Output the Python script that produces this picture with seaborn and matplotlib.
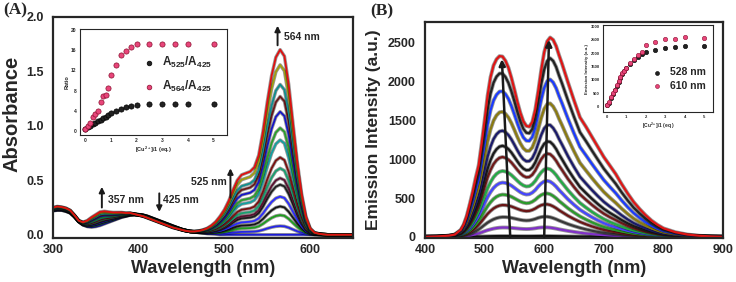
import numpy as np
import pandas as pd
import matplotlib
matplotlib.use("Agg")
import matplotlib.pyplot as plt
import matplotlib.patheffects as pe
import seaborn as sns

# ---------------- panel A : absorption titration ----------------
abs_wl = [300, 305, 310, 315, 320, 325, 330, 335, 340, 345, 350, 355, 360, 365, 370,
          375, 380, 385, 390, 395, 400, 405, 410, 415, 420, 425, 430, 435, 440, 445,
          450, 455, 460, 465, 470, 475, 480, 485, 490, 495, 500, 505, 510, 515, 520,
          525, 530, 535, 540, 545, 550, 555, 560, 565, 570, 575, 580, 585, 590, 595,
          600, 605, 610, 615, 620, 625, 630, 635, 640, 645, 650]
# spectrum of free probe (no Cu2+)
abs_free = [0.22, 0.225, 0.225, 0.215, 0.20, 0.165, 0.12, 0.09, 0.075, 0.07, 0.075, 0.085, 0.10, 0.115, 0.13,
            0.145, 0.16, 0.17, 0.18, 0.185, 0.185, 0.18, 0.17, 0.155, 0.14, 0.125, 0.11, 0.095, 0.08, 0.065,
            0.05, 0.04, 0.03, 0.025, 0.02, 0.015, 0.01, 0.008, 0.005, 0.0, 0.0, 0.0, 0.0, 0.0, 0.0,
            0.0, 0.0, 0.0, 0.0, 0.0, 0.0, 0.0, 0.0, 0.0, 0.0, 0.0, 0.0, 0.0, 0.0, 0.0,
            0.0, 0.0, 0.0, 0.0, 0.0, 0.0, 0.0, 0.0, 0.0, 0.0, 0.0]
# spectrum at the end of the titration
abs_top = [0.25, 0.26, 0.255, 0.245, 0.225, 0.18, 0.13, 0.115, 0.13, 0.16, 0.185, 0.21, 0.215, 0.21, 0.205,
           0.205, 0.205, 0.20, 0.20, 0.19, 0.18, 0.17, 0.155, 0.14, 0.125, 0.11, 0.095, 0.08, 0.065, 0.055,
           0.045, 0.035, 0.03, 0.03, 0.035, 0.045, 0.06, 0.085, 0.12, 0.17, 0.23, 0.31, 0.41, 0.50, 0.55,
           0.565, 0.58, 0.62, 0.73, 0.95, 1.22, 1.46, 1.63, 1.70, 1.64, 1.38, 1.02, 0.67, 0.38, 0.17,
           0.06, 0.02, 0.01, 0.004, 0.0, 0.0, 0.0, 0.0, 0.0, 0.0, 0.0]
# absorbance at 564 nm for every trace (bottom -> top)
abs_peaks = [0.0, 0.08, 0.18, 0.26, 0.35, 0.46, 0.52, 0.61, 0.71, 0.87, 0.98, 1.13, 1.27, 1.38, 1.56, 1.70]
abs_colors = ["#1a1ad8", "#2525e6", "#1e9e1e", "#151515", "#2b2bff", "#202020", "#5a1030", "#18a070",
              "#7a1010", "#12a0a0", "#2aa02a", "#1515c8", "#6b1818", "#0f8f8f", "#a0a010", "#e01010"]

# inset A : ratios
eq_a = [0, 0.1, 0.2, 0.3, 0.4, 0.5, 0.6, 0.7, 0.8, 0.9, 1.0, 1.2, 1.4, 1.6, 1.8, 2.0, 2.5, 3.0, 3.5, 4.0, 5.0]
ratio_525 = [0.3, 0.7, 1.0, 1.3, 1.6, 1.9, 2.2, 2.5, 2.8, 3.1, 3.6, 4.0, 4.4, 4.7, 5.0, 5.2, 5.4, 5.4, 5.4, 5.4, 5.4]
ratio_564 = [0.3, 1.0, 1.6, 2.7, 3.3, 4.0, 5.7, 7.0, 7.1, 8.5, 11.0, 13.0, 15.0, 15.9, 16.6, 17.3, 17.3, 17.3, 17.3, 17.3, 17.3]

# ---------------- panel B : emission titration ----------------
em_wl = [400, 420, 440, 450, 460, 465, 470, 475, 480, 485, 490, 495, 500, 505, 510, 515, 520, 525, 530,
         535, 540, 545, 550, 555, 560, 565, 570, 575, 580, 585, 590, 595, 600, 605, 610, 615, 620, 625,
         630, 640, 650, 660, 670, 680, 690, 700, 710, 720, 730, 740, 750, 760, 770, 780, 790, 800, 820,
         840, 860, 880, 900]
# final emission spectrum
em_top = [0, 5, 15, 30, 90, 160, 270, 420, 580, 760, 920, 1200, 1500, 1820, 2060, 2210, 2290, 2330, 2325,
          2270, 2180, 2050, 1900, 1740, 1600, 1490, 1430, 1420, 1480, 1640, 1880, 2150, 2380, 2520, 2570, 2540,
          2460, 2340, 2230, 1990, 1760, 1540, 1420, 1290, 1160, 1030, 920, 810, 680, 560, 450, 360, 280, 210,
          155, 110, 60, 30, 14, 5, 0]
# shape of the weakest emission trace (scaled to 1 at 528 nm)
em_low = [0, 0, 0.01, 0.02, 0.04, 0.06, 0.09, 0.13, 0.19, 0.27, 0.37, 0.48, 0.60, 0.71, 0.80, 0.88, 0.94, 0.98, 1.0,
          1.0, 0.99, 0.97, 0.94, 0.91, 0.88, 0.86, 0.85, 0.86, 0.89, 0.93, 0.98, 1.01, 1.02, 1.01, 0.98, 0.93,
          0.87, 0.80, 0.74, 0.62, 0.52, 0.43, 0.35, 0.28, 0.22, 0.17, 0.13, 0.10, 0.075, 0.055, 0.04, 0.03, 0.02, 0.015,
          0.01, 0.007, 0.003, 0.001, 0, 0, 0]
# intensity at 528 nm for every trace (bottom -> top)
em_peaks = [10, 120, 255, 410, 545, 700, 850, 1030, 1175, 1370, 1615, 1880, 2110, 2330]
em_colors = ["#101010", "#8030c8", "#383838", "#6a1515", "#2a9a2a", "#4545ff", "#22aa44", "#701818",
             "#1a1a1a", "#1a1a6a", "#8a7a10", "#1a3aff", "#222222", "#e01515"]

# inset B : intensities
eq_b = [0, 0.1, 0.2, 0.3, 0.4, 0.5, 0.6, 0.7, 0.8, 0.9, 1.0, 1.2, 1.4, 1.6, 1.8, 2.0, 2.5, 3.0, 3.5, 4.0, 5.0]
int_528 = [50, 150, 330, 480, 620, 780, 930, 1080, 1220, 1330, 1430, 1600, 1750, 1870, 1980, 2060, 2120, 2190, 2220, 2250, 2250]
int_610 = [50, 170, 350, 500, 640, 800, 950, 1100, 1240, 1350, 1450, 1620, 1780, 1920, 2050, 2310, 2410, 2520, 2540, 2600, 2570]


def halo(ax, lw):
    for ln in ax.lines:
        ln.set_path_effects([pe.Stroke(linewidth=lw + 1.2, foreground=(0, 0, 0, 0.4)), pe.Normal()])


def style_main(ax):
    for s in ax.spines.values():
        s.set_linewidth(1.6)
        s.set_visible(True)
    ax.tick_params(axis="x", direction="in", length=3, width=1.2, labelsize=9, pad=4)
    ax.tick_params(axis="y", direction="out", length=3, width=1.2, labelsize=9)
    ax.tick_params(which="minor", direction="in", length=2, width=1)


def style_inset(ax):
    for s in ax.spines.values():
        s.set_linewidth(0.8)
        s.set_visible(True)
    ax.tick_params(length=1.5, width=0.6, labelsize=3.5, pad=1)


sns.set_theme(style="white")
plt.rcParams["font.family"] = ["Liberation Sans", "DejaVu Sans"]
plt.rcParams["font.weight"] = "bold"
plt.rcParams["axes.labelweight"] = "bold"
plt.rcParams["mathtext.fontset"] = "custom"
plt.rcParams["mathtext.bf"] = "Liberation Sans:bold"
plt.rcParams["mathtext.rm"] = "Liberation Sans:bold"

fig = plt.figure(figsize=(7.36, 2.82), dpi=100)

# ------------------- A -------------------
axA = fig.add_axes([53 / 736, 1 - 238 / 282, 300 / 736, 221 / 282])
free = np.array(abs_free)
top = np.array(abs_top)
rows = []
for i, p in enumerate(abs_peaks):
    f = p / abs_peaks[-1]
    for w, v in zip(abs_wl, free + f * (top - free)):
        rows.append((i, w, v))
dfA = pd.DataFrame(rows, columns=["curve", "wl", "A"])
sns.lineplot(data=dfA, x="wl", y="A", hue="curve", palette=abs_colors, legend=False,
             ax=axA, linewidth=1.3, estimator=None, sort=False)
halo(axA, 1.3)
axA.set_xlim(300, 650)
axA.set_ylim(-0.03, 2.0)
axA.set_xticks([300, 400, 500, 600])
axA.set_xticks([350, 450, 550], minor=True)
axA.set_yticks([0.0, 0.5, 1.0, 1.5, 2.0])
axA.set_yticklabels(["0.0", "0.5", "1.0", "1.5", "2.0"])
style_main(axA)
axA.set_xlabel("Wavelength (nm)", fontsize=13)
axA.set_ylabel("Absorbance", fontsize=14.5)
axA.xaxis.set_label_coords(0.5, -0.10)
axA.yaxis.set_label_coords(-0.105, 0.56)

arrow = dict(arrowstyle="-|>", color="k", lw=1.4, mutation_scale=8, shrinkA=0, shrinkB=0)
axA.annotate("", xy=(562, 1.92), xytext=(562, 1.74), arrowprops=arrow)
axA.text(570, 1.82, "564 nm", fontsize=7.5, va="center")
axA.annotate("", xy=(357, 0.44), xytext=(357, 0.25), arrowprops=arrow)
axA.text(364, 0.32, "357 nm", fontsize=7.5, va="center")
axA.annotate("", xy=(424, 0.21), xytext=(424, 0.38), arrowprops=arrow)
axA.text(428, 0.32, "425 nm", fontsize=7.5, va="center")
axA.annotate("", xy=(507, 0.61), xytext=(507, 0.34), arrowprops=arrow)
axA.text(503, 0.48, "525 nm", fontsize=7.5, va="center", ha="right")

# inset A
insA = fig.add_axes([80 / 736, 1 - 135 / 282, 147 / 736, 106 / 282])
sns.scatterplot(x=eq_a, y=ratio_525, color="#222222", edgecolor="#000000", linewidth=0.5, s=14,
                ax=insA, label="$\\mathbf{A_{525}/A_{425}}$")
sns.scatterplot(x=eq_a, y=ratio_564, color="#e8457a", edgecolor="#8b1030", linewidth=0.5, s=14,
                ax=insA, label="$\\mathbf{A_{564}/A_{425}}$")
insA.set_xlim(-0.2, 5.52)
insA.set_ylim(-0.8, 20.2)
insA.set_xticks(range(6))
insA.set_yticks([0, 4, 8, 12, 16, 20])
style_inset(insA)
insA.set_xlabel("[Cu$^{2+}$]/1 (eq.)", fontsize=4, labelpad=1)
insA.set_ylabel("Ratio", fontsize=4, labelpad=1)
insA.legend(loc="center right", bbox_to_anchor=(0.93, 0.57), frameon=False, fontsize=8.5,
            handletextpad=0.1, borderaxespad=0, markerscale=0.9, labelspacing=0.75)

# ------------------- B -------------------
axB = fig.add_axes([425 / 736, 1 - 238 / 282, 298 / 736, 216 / 282])
lo = np.array(em_low)
hi = np.array(em_top) / em_top[em_wl.index(525)]
rows = []
for i, h in enumerate(em_peaks):
    w = h / em_peaks[-1]
    for x, v in zip(em_wl, h * ((1 - w) * lo + w * hi)):
        rows.append((i, x, v))
dfB = pd.DataFrame(rows, columns=["curve", "wl", "I"])
sns.lineplot(data=dfB, x="wl", y="I", hue="curve", palette=em_colors, legend=False,
             ax=axB, linewidth=1.6, estimator=None, sort=False)
halo(axB, 1.6)
axB.set_xlim(400, 900)
axB.set_ylim(-15, 2770)
axB.set_xticks([400, 500, 600, 700, 800, 900])
axB.set_xticks([450, 550, 650, 750, 850], minor=True)
axB.set_yticks([0, 500, 1000, 1500, 2000, 2500])
style_main(axB)
axB.set_xlabel("Wavelength (nm)", fontsize=13)
axB.set_ylabel("Emission Intensity (a.u.)", fontsize=12.5)
axB.xaxis.set_label_coords(0.5, -0.10)
axB.yaxis.set_label_coords(-0.148, 0.5)

arrowB = dict(arrowstyle="-|>", color="k", lw=1.8, mutation_scale=9, shrinkA=0, shrinkB=0)
axB.annotate("", xy=(529, 2290), xytext=(543, 0), arrowprops=arrowB)
axB.annotate("", xy=(608, 2540), xytext=(600, 0), arrowprops=arrowB)

# inset B
insB = fig.add_axes([603 / 736, 1 - 112 / 282, 110 / 736, 87 / 282])
sns.scatterplot(x=eq_b, y=int_528, color="#222222", edgecolor="#000000", linewidth=0.4, s=10,
                ax=insB, label="528 nm")
sns.scatterplot(x=eq_b, y=int_610, color="#e8457a", edgecolor="#8b1030", linewidth=0.4, s=10,
                ax=insB, label="610 nm")
insB.set_xlim(-0.2, 5.46)
insB.set_ylim(-200, 3050)
insB.set_xticks(range(6))
insB.set_yticks([0, 500, 1000, 1500, 2000, 2500, 3000])
style_inset(insB)
insB.tick_params(labelsize=3)
insB.set_xlabel("[Cu$^{2+}$]/1 (eq.)", fontsize=3.5, labelpad=1)
insB.set_ylabel("Emission Intensity (a.u.)", fontsize=3.2, labelpad=1)
insB.legend(loc="center right", bbox_to_anchor=(0.97, 0.38), frameon=False, fontsize=7.5,
            handletextpad=0.2, borderaxespad=0, markerscale=0.9, labelspacing=0.3)

fig.text(3 / 736, 1 - 10 / 282, "(A)", fontsize=12.5, fontweight="bold", va="center",
         family=["Liberation Serif", "DejaVu Serif"])
fig.text(370 / 736, 1 - 11 / 282, "(B)", fontsize=12.5, fontweight="bold", va="center",
         family=["Liberation Serif", "DejaVu Serif"])

fig.savefig("out.png", dpi=100, facecolor="white")
